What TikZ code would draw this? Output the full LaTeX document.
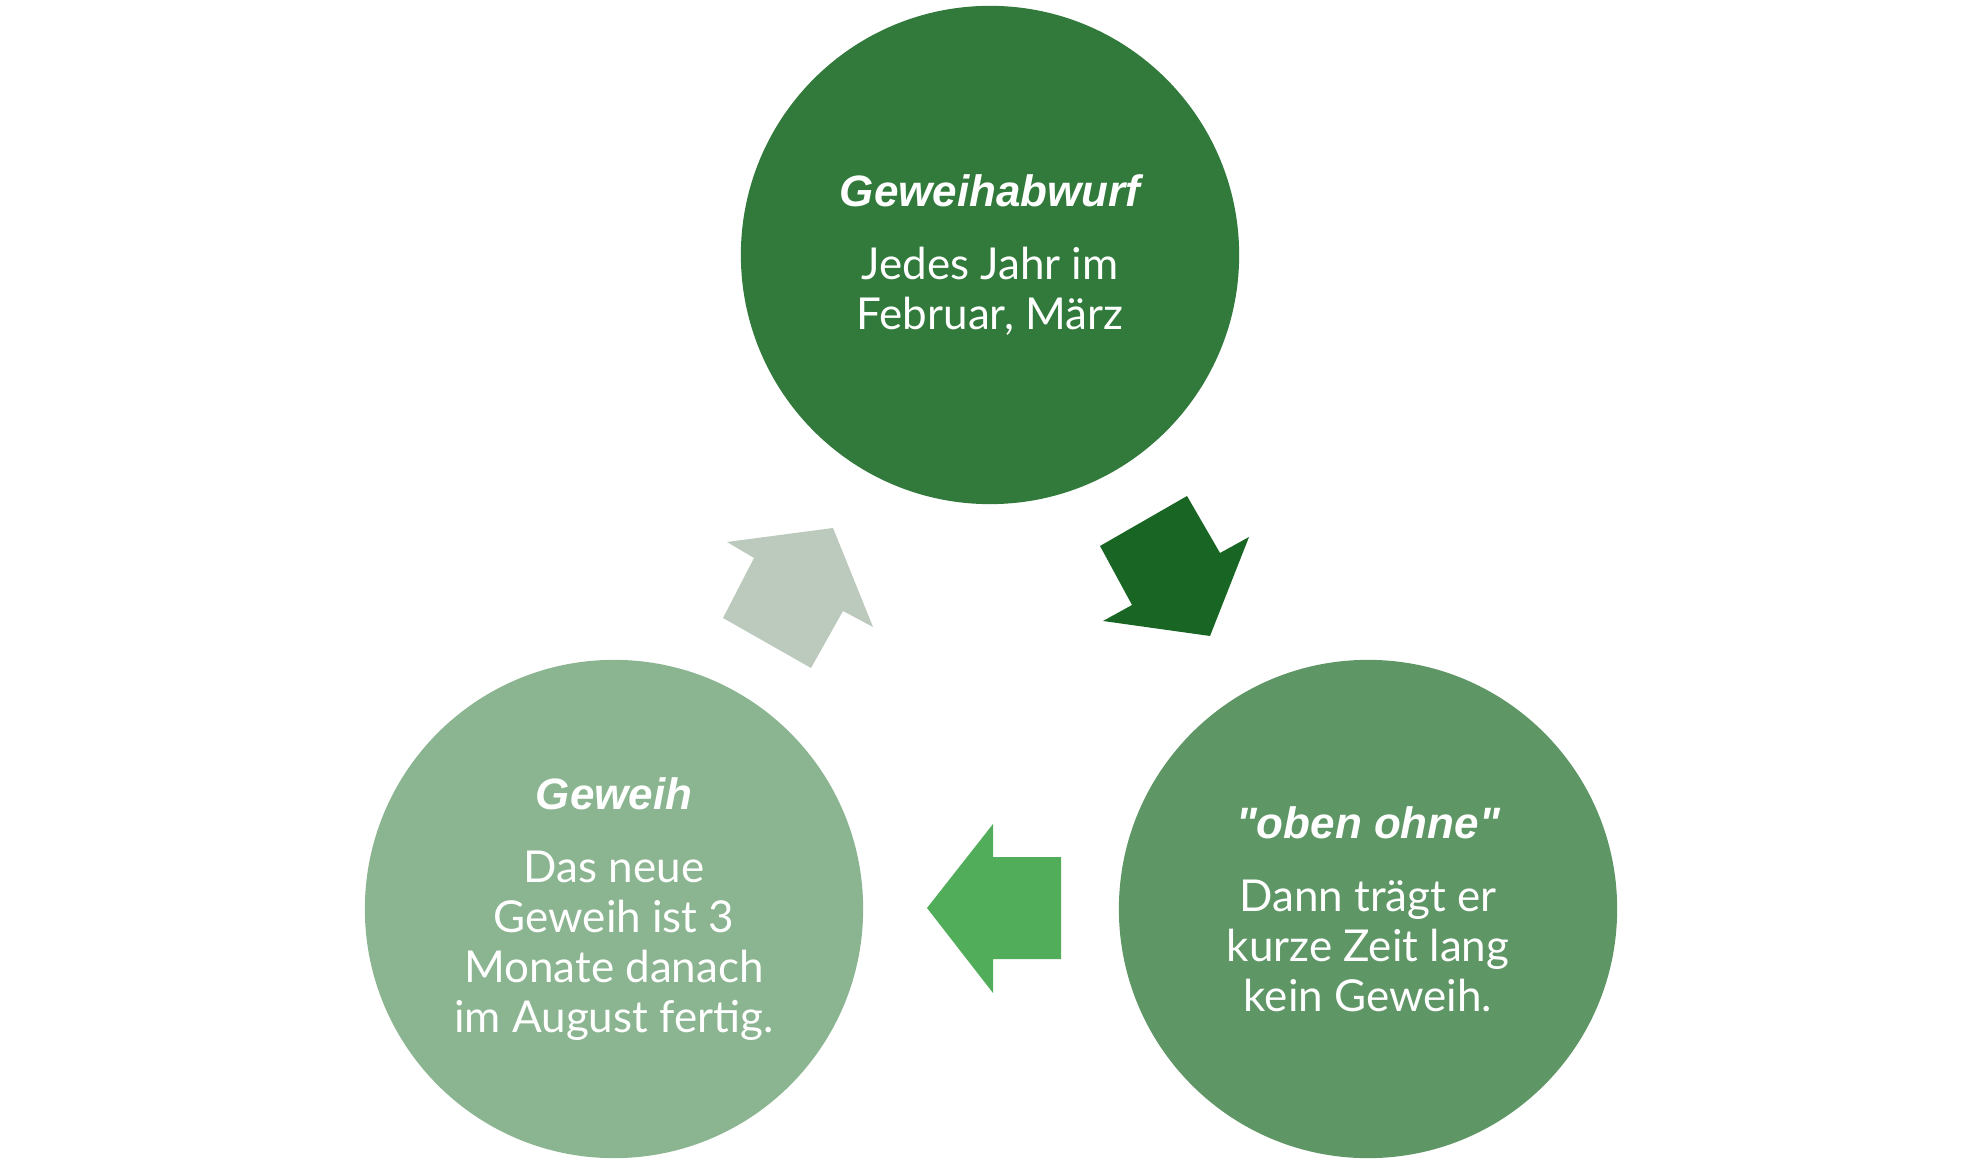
\documentclass[tikz,border=0pt]{standalone}
\usepackage{fontspec}
\setmainfont{Lato}
\newfontfamily\headfont{Liberation Sans}

\definecolor{topgreen}{RGB}{49,122,60}
\definecolor{rightgreen}{RGB}{95,150,102}
\definecolor{leftgreen}{RGB}{139,181,145}
\definecolor{darkarrow}{RGB}{25,102,36}
\definecolor{midarrow}{RGB}{82,173,91}
\definecolor{palearrow}{RGB}{188,201,189}

\tikzset{
    phase/.style={circle, minimum size=4.98cm, inner sep=0pt, text=white, align=center,
        font=\fontsize{12.5}{14.2}\selectfont},
    phasehead/.style={font=\headfont\bfseries\itshape\fontsize{12.5}{14.2}\selectfont}
}

\begin{document}
\begin{tikzpicture}[x=0.01cm, y=-0.01cm]

    % Frame, pixel grid of the reference
    \useasboundingbox (0,0) rectangle (1980,1168);

    % The three phases of the year
    \node[phase, fill=topgreen] (abwurf) at (990,255)
        {{\headfont\bfseries\itshape Geweihabwurf}\\[6.5pt]Jedes Jahr im\\Februar, März};
    \node[phase, fill=rightgreen] (ohne) at (1368,909)
        {{\headfont\bfseries\itshape "oben ohne"}\\[6.5pt]Dann trägt er\\kurze Zeit lang\\kein Geweih.};
    \node[phase, fill=leftgreen] (geweih) at (614,909)
        {{\headfont\bfseries\itshape Geweih}\\[6.5pt]Das neue\\Geweih ist 3\\Monate danach\\im August fertig.};

    % Block arrows between the circles
    \fill[darkarrow] (1100,546) -- (1187,496) -- (1220,553) -- (1249,537) -- (1210,636) -- (1103,621) -- (1132,605) -- cycle; % down to the right
    \fill[midarrow] (927,908) -- (993,824) -- (993,857) -- (1061,857) -- (1061,959) -- (993,959) -- (993,993) -- cycle; % back to the left
    \fill[palearrow] (727,542) -- (833,528) -- (873,627) -- (843,611) -- (811,668) -- (723,618) -- (754,558) -- cycle; % up again

\end{tikzpicture}
\end{document}
